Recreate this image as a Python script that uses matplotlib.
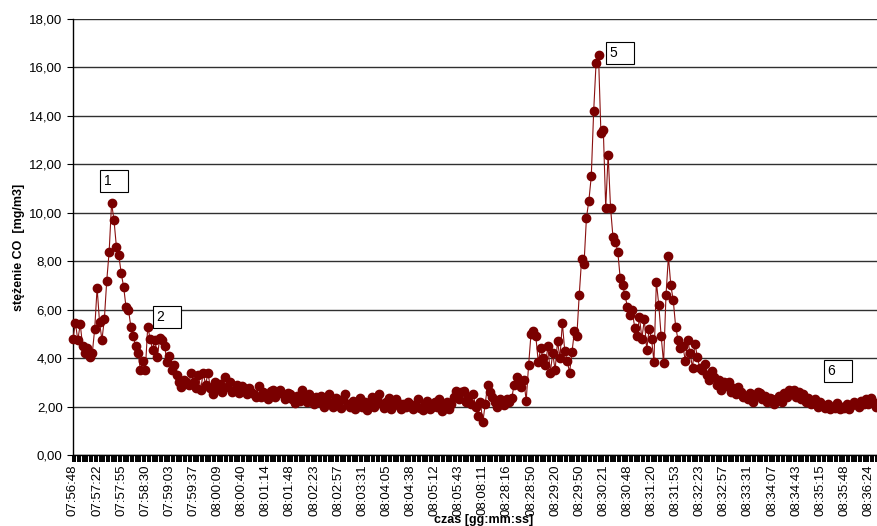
import numpy as np
import matplotlib
matplotlib.use('Agg')
import matplotlib.pyplot as plt
from matplotlib.ticker import FuncFormatter

plt.rcParams['font.family'] = ['Liberation Sans', 'DejaVu Sans']

## the data: CO concentration, one value per sample (category axis)
co = [
    4.8, 5.45, 4.75, 5.4, 4.5, 4.2, 4.4, 4.05, 4.2, 5.2,
    6.9, 5.5, 4.75, 5.6, 7.2, 8.4, 10.4, 9.7, 8.6, 8.25,
    7.5, 6.95, 6.1, 6.0, 5.3, 4.9, 4.5, 4.2, 3.5, 3.9,
    3.5, 5.3, 4.8, 4.35, 4.75, 4.05, 4.85, 4.75, 4.5, 3.85,
    4.1, 3.5, 3.7, 3.3, 3.0, 2.8, 3.1, 3.0, 2.9, 3.4,
    3.0, 2.75, 3.3, 2.7, 3.4, 2.9, 3.4, 2.75, 2.5, 3.0,
    2.75, 2.95, 2.6, 3.2, 2.8, 3.0, 2.6, 2.7, 2.9, 2.55,
    2.85, 2.75, 2.5, 2.75, 2.6, 2.5, 2.4, 2.85, 2.4, 2.6,
    2.5, 2.3, 2.65, 2.7, 2.4, 2.6, 2.7, 2.5, 2.3, 2.55,
    2.5, 2.3, 2.15, 2.45, 2.25, 2.7, 2.35, 2.2, 2.5, 2.3,
    2.1, 2.4, 2.2, 2.45, 2.0, 2.3, 2.5, 2.15, 2.0, 2.35,
    2.2, 1.95, 2.3, 2.5, 2.1, 2.0, 2.25, 1.9, 2.1, 2.35,
    2.0, 2.2, 1.85, 2.1, 2.4, 2.0, 2.3, 2.5, 2.1, 1.95,
    2.2, 2.35, 1.9, 2.05, 2.3, 2.15, 1.9, 2.1, 2.0, 2.2,
    2.1, 1.9, 2.05, 2.3, 1.95, 1.85, 2.1, 2.25, 1.9, 2.0,
    2.2, 2.0, 2.3, 1.8, 2.05, 2.2, 1.9, 2.1, 2.4, 2.65,
    2.3, 2.6, 2.65, 2.2, 2.4, 2.1, 2.5, 2.0, 1.6, 2.2,
    1.35, 2.1, 2.9, 2.6, 2.4, 2.2, 2.0, 2.3, 2.2, 2.05,
    2.3, 2.2, 2.35, 2.9, 3.2, 3.0, 2.8, 3.1, 2.25, 3.7,
    5.0, 5.1, 4.9, 3.85, 4.4, 4.0, 3.7, 4.5, 3.4, 4.2,
    3.5, 4.7, 4.0, 5.45, 4.3, 3.9, 3.4, 4.25, 5.1, 4.9,
    6.6, 8.1, 7.9, 9.8, 10.5, 11.5, 14.2, 16.2, 16.5, 13.3,
    13.4, 10.2, 12.4, 10.2, 9.0, 8.8, 8.4, 7.3, 7.0, 6.6,
    6.1, 5.8, 6.0, 5.25, 4.9, 5.7, 4.8, 5.6, 4.35, 5.2,
    4.8, 3.85, 7.15, 6.2, 4.9, 3.8, 6.6, 8.2, 7.0, 6.4,
    5.3, 4.75, 4.4, 4.5, 3.9, 4.75, 4.2, 3.6, 4.6, 4.05,
    3.6, 3.5, 3.75, 3.3, 3.1, 3.45, 3.2, 2.9, 3.1, 2.7,
    3.0, 2.85, 3.0, 2.6, 2.75, 2.5, 2.8, 2.6, 2.4, 2.45,
    2.3, 2.55, 2.2, 2.45, 2.6, 2.55, 2.3, 2.45, 2.2, 2.35,
    2.3, 2.1, 2.3, 2.45, 2.2, 2.55, 2.4, 2.7, 2.55, 2.7,
    2.4, 2.6, 2.3, 2.5, 2.2, 2.35, 2.1, 2.15, 2.3, 2.0,
    2.2, 2.05, 1.95, 2.1, 1.9, 2.0, 1.95, 2.15, 1.9, 2.0,
    1.95, 2.1, 1.9, 2.05, 2.2, 2.1, 2.0, 2.25, 2.1, 2.3,
    2.1, 2.35, 2.2, 2.0, 2.15, 2.1, 2.0, 2.2, 2.05, 2.15,
    1.95, 2.1,
]

time_labels = [
    '07:56:48', '07:57:22', '07:57:55', '07:58:30', '07:59:03', '07:59:37',
    '08:00:09', '08:00:40', '08:01:14', '08:01:48', '08:02:23', '08:02:57',
    '08:03:31', '08:04:05', '08:04:38', '08:05:12', '08:05:43', '08:08:11',
    '08:28:16', '08:28:50', '08:29:20', '08:29:50', '08:30:21', '08:30:48',
    '08:31:20', '08:31:53', '08:32:23', '08:32:57', '08:33:31', '08:34:07',
    '08:34:43', '08:35:15', '08:35:48', '08:36:24',
]
label_step = 10

# numbered markers on the chart: text, sample index, value
notes = ['1', '2', '5', '6']
note_idx = [12.9, 34.9, 222.8, 313.3]
note_val = [11.32, 5.7, 16.6, 3.47]

## figure
fig = plt.figure(figsize=(8.77, 5.26), dpi=100)
# the plot area runs past the right edge, like the cropped original
ax = fig.add_axes([73/877, 71/526, 822/877, 436/526])

x = np.arange(len(co))
ax.plot(x, co, color='#8a1010', lw=0.8, marker='o', ms=6,
        mfc='#7a0000', mec='#7a0000', clip_on=False, zorder=3)

ax.set_xlim(0, 341)
ax.set_ylim(0, 18)
ax.set_yticks(np.arange(0, 19, 2))
ax.yaxis.set_major_formatter(FuncFormatter(lambda v, p: f'{v:.2f}'.replace('.', ',')))
ax.grid(axis='y', color='#303030', lw=1.0)
ax.set_axisbelow(True)
for s in ['top', 'right']:
    ax.spines[s].set_visible(False)
ax.spines['left'].set_linewidth(1.0)
ax.spines['bottom'].set_linewidth(1.0)

ax.set_xticks(x[::label_step][:len(time_labels)])
ax.set_xticklabels(time_labels, rotation=90, fontsize=9.5)
ax.set_xticks(x, minor=True)
ax.tick_params(axis='x', which='both', length=5, width=1.4, direction='out', pad=2)
ax.tick_params(axis='y', length=4, labelsize=9.5)

for t, xi, yv in zip(notes, note_idx, note_val):
    ax.text(xi, yv, t + '   ', fontsize=10, ha='left', va='center', zorder=4,
            bbox=dict(boxstyle='square,pad=0.3', fc='white', ec='black', lw=0.8))

ax.set_ylabel('stężenie CO  [mg/m3]', fontsize=9, fontweight='bold')
ax.yaxis.set_label_coords(-0.058, 0.477)
ax.set_xlabel('czas [gg:mm:ss]', fontsize=9, fontweight='bold')
ax.xaxis.set_label_coords(0.5, -0.135)

fig.savefig('out.png', dpi=100)
